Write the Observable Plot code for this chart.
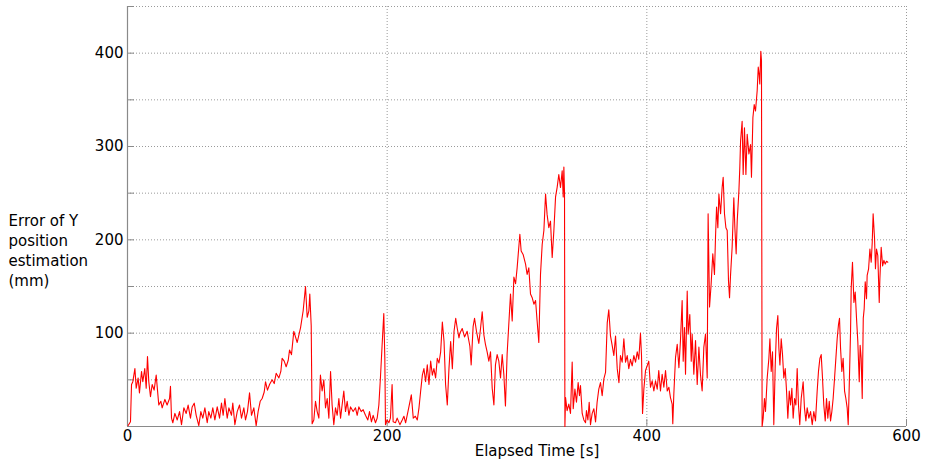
<!DOCTYPE html>
<html>
<head>
<meta charset="utf-8">
<script src="https://cdn.jsdelivr.net/npm/d3@7"></script>
<script src="https://cdn.jsdelivr.net/npm/@observablehq/plot@0.6"></script>
<style>
  html, body { margin: 0; padding: 0; background: #fff; }
</style>
</head>
<body>
<div id="chart"></div>
<script>
// Elapsed time [s] and error of Y position estimation [mm].
const elapsedTime = [
  0.5,2.3,3.1,4.1,5.7,6.7,8.2,9.2,10.8,11.8,13.3,14.4,15.4,16.4,17.7,19.0,20.5,22.1,23.1,24.1,25.7,26.7,28.8,30.5,32.4,33.1,33.9,34.9,36.5,38.3,40.1,41.6,43.4,45.2,46.7,48.5,49.8,51.4,52.9,54.9,56.5,58.0,59.6,61.4,62.6,64.2,65.7,67.3,69.1,70.9,72.4,73.7,75.0,76.8,78.1,80.1,81.1,82.7,84.5,86.3,87.8,89.6,90.9,92.4,94.0,95.5,97.3,99.1,100.6,102.2,103.7,105.3,106.3,107.8,109.4,111.4,113.0,114.5,116.6,118.1,119.1,120.7,122.2,123.8,124.8,126.3,128.1,130.7,133.3,135.3,137.1,138.4,139.7,140.4,141.5,142.2,
  143.5,144.8,146.1,147.4,148.6,149.9,151.2,152.5,153.8,155.1,156.4,157.6,158.9,160.2,161.5,162.8,164.1,165.3,166.6,167.9,169.2,170.5,171.8,173.8,175.6,176.9,178.2,180.0,181.5,183.3,185.1,186.4,187.9,189.2,191.0,192.3,193.6,194.8,196.1,197.4,198.2,198.7,200.0,201.3,202.5,203.8,204.6,206.4,207.7,209.8,211.6,212.9,214.2,216.0,217.6,218.6,220.1,221.7,223.2,224.5,225.8,227.1,228.3,229.6,230.9,232.2,233.5,234.8,236.0,237.3,238.6,239.9,241.2,242.5,243.8,245.0,246.3,247.6,248.9,250.2,251.5,252.8,254.0,255.3,
  256.0,257.8,259.6,261.6,263.7,264.7,266.2,267.3,268.8,270.6,271.9,273.2,274.5,275.7,277.0,278.3,279.6,280.9,282.2,283.4,284.7,286.0,287.3,288.6,289.9,291.1,292.4,295.0,296.3,297.6,298.9,300.1,302.2,303.2,304.8,306.6,307.8,309.1,310.4,311.7,313.0,314.3,315.5,316.8,318.1,319.4,320.7,322.0,323.2,324.5,325.8,327.1,328.4,329.7,330.9,332.2,333.5,334.8,335.6,336.1,336.6,336.9,
  337.4,338.6,339.9,341.2,342.5,343.3,344.6,345.8,347.1,348.1,348.9,350.2,351.5,352.8,353.5,354.6,355.6,356.6,357.9,359.2,360.5,361.7,363.0,364.3,365.6,366.9,368.2,369.5,370.7,372.0,373.3,374.6,375.9,377.2,378.5,379.7,381.0,382.3,383.6,384.9,386.1,387.4,388.7,390.0,391.3,392.6,393.8,395.1,395.9,396.7,397.7,399.0,
  401.5,402.8,404.1,405.4,406.7,408.0,409.2,410.5,411.8,413.1,414.4,415.7,417.0,418.2,419.5,420.0,420.8,422.1,423.4,424.7,425.9,427.2,428.0,429.0,429.8,431.1,431.8,433.1,434.2,434.9,436.2,437.5,438.8,440.1,441.3,442.6,443.9,445.2,446.5,447.2,448.3,449.5,450.8,452.1,452.9,453.7,454.7,455.5,456.8,458.0,458.8,459.8,460.9,461.9,462.9,463.7,464.5,465.7,467.0,467.8,468.8,469.6,470.9,471.6,472.2,473.4,474.2,475.2,476.3,477.3,478.6,479.9,480.6,481.7,482.7,483.7,485.0,485.8,486.5,487.0,487.8,488.3,488.8,
  489.6,490.6,491.4,492.7,494.0,494.8,495.8,496.8,497.8,498.9,499.9,500.9,501.7,502.5,503.5,504.5,505.5,506.6,507.6,508.6,509.7,510.7,511.7,512.7,513.8,514.8,515.8,516.8,517.8,518.9,520.4,521.4,522.5,523.5,524.8,526.1,527.4,528.6,529.9,531.2,532.2,533.3,534.3,535.3,536.3,537.4,538.4,539.4,540.5,541.5,542.5,543.5,544.6,545.6,546.6,547.6,548.4,549.2,550.2,551.2,552.3,553.3,554.3,555.1,555.8,556.9,557.4,558.4,559.5,560.5,561.5,562.5,563.6,564.3,565.1,565.9,566.7,567.4,568.2,569.2,569.7,570.8,571.8,572.8,573.6,574.3,575.4,576.1,576.9,577.9,579.0,579.5,580.5,581.6,582.6,583.6,584.6,585.6
];
const errorMm = [
  1,5,45,48,62,41,52,36,59,48,62,41,75,48,32,45,39,55,39,23,27,20,29,23,30,43,9,4,14,7,16,2,20,14,23,9,21,25,12,1,16,9,20,4,16,9,20,7,21,9,25,12,30,9,20,12,25,2,16,23,9,20,7,16,36,12,20,1,16,27,30,37,48,39,45,50,46,57,52,59,73,70,64,71,82,77,102,90,106,124,150,117,124,142,108,3,
  7,27,16,9,55,38,50,20,30,9,59,23,2,20,12,30,9,23,38,16,27,12,21,16,20,12,21,16,18,12,7,16,5,12,4,9,23,52,87,121,73,2,7,4,9,45,5,4,9,2,7,11,4,16,27,34,9,11,7,20,38,55,62,48,66,45,70,55,62,52,73,68,80,112,91,45,23,62,91,62,102,116,105,95,
  100,105,96,102,86,66,107,116,102,89,105,123,98,88,80,70,80,41,23,66,77,70,52,77,55,22,78,142,113,160,153,170,206,188,184,174,163,170,142,138,131,135,113,90,163,195,210,249,227,213,220,181,210,246,256,270,256,274,246,278,250,0,
  31,17,24,14,69,19,40,26,47,33,44,14,7,4,17,7,26,2,14,19,5,26,40,47,33,51,58,111,125,97,87,76,97,62,47,76,69,94,69,76,62,72,65,76,69,80,72,100,76,14,40,60,
  70,42,49,38,49,40,60,38,56,42,60,38,42,31,24,3,35,74,88,63,92,135,70,106,56,145,99,120,70,99,56,92,45,85,56,38,85,99,52,228,128,152,185,163,203,235,213,249,228,256,267,228,213,210,156,138,163,192,245,213,185,220,252,277,306,327,270,320,270,313,292,302,267,331,345,338,360,385,377,367,402,392,0,
  9,30,16,52,73,94,59,80,2,66,105,119,84,66,94,77,52,62,38,9,38,23,41,9,30,23,62,23,2,30,48,20,6,20,9,16,2,16,6,38,59,73,77,52,23,6,30,9,27,6,16,30,52,73,94,109,116,84,59,73,38,30,20,2,38,101,148,176,133,144,116,91,48,87,73,30,116,126,155,137,162,169,190,176,197,228,201,169,190,183,133,158,192,172,178,174,177,176
];

const xTickValues = [0, 200, 400, 600];
const xGridValues = [200, 400, 600];
const yTickLabelValues = [100, 200, 300, 400];
const yGridValues = [50, 100, 150, 200, 250, 300, 350, 400, 450];
const xLabel = "Elapsed Time [s]";
const yLabel = "Error of Y\nposition\nestimation\n(mm)";

const data = elapsedTime.map((t, i) => ({t, v: errorMm[i]}));

const axisColor = "#8a8a8a";
const gridColor = "#9a9a9a";

const chart = Plot.plot({
  width: 925,
  height: 468,
  marginLeft: 127,
  marginRight: 19,
  marginTop: 6,
  marginBottom: 42,
  style: {fontFamily: "'DejaVu Sans', Verdana, sans-serif", fontSize: "15px", color: "#000", background: "#fff"},
  x: {domain: [0, 600]},
  y: {domain: [0, 450]},
  marks: [
    Plot.ruleY(yGridValues, {stroke: gridColor, strokeWidth: 1, strokeDasharray: "1,2"}),
    Plot.ruleX(xGridValues, {stroke: gridColor, strokeWidth: 1, strokeDasharray: "1,2"}),
    Plot.axisY(yGridValues, {anchor: "left", tickSize: -7, tickFormat: () => "", label: null, stroke: axisColor}),
    Plot.axisX(xTickValues, {anchor: "bottom", tickSize: -7, tickFormat: () => "", label: null, stroke: axisColor}),
    Plot.axisY(yTickLabelValues, {anchor: "left", tickSize: 0, tickPadding: 4, label: null, fontSize: 15, fill: "#000"}),
    Plot.axisX(xTickValues, {anchor: "bottom", tickSize: 0, tickPadding: 4, label: null, fontSize: 15, fill: "#000"}),
    Plot.ruleX([0], {stroke: axisColor, strokeWidth: 1.2}),
    Plot.ruleY([0], {stroke: axisColor, strokeWidth: 1.2}),
    Plot.line(data, {x: "t", y: "v", stroke: "#ff0000", strokeWidth: 1.1}),
    Plot.text([yLabel], {frameAnchor: "left", dx: -119, dy: 33, textAnchor: "start", lineHeight: 1.33, fontSize: 15, fill: "#000"}),
    Plot.text([xLabel], {frameAnchor: "bottom", dx: 20, dy: 29, textAnchor: "middle", fontSize: 15, fill: "#000"})
  ]
});
document.getElementById("chart").appendChild(chart);
</script>
</body>
</html>
